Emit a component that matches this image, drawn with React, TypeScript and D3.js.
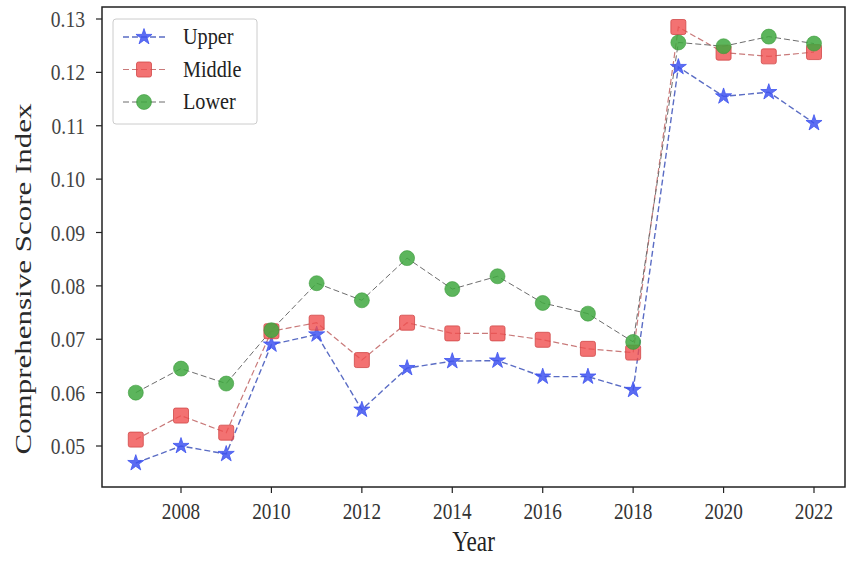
import React from "react";
import * as d3 from "d3";

const years = [2007, 2008, 2009, 2010, 2011, 2012, 2013, 2014, 2015, 2016, 2017, 2018, 2019, 2020, 2021, 2022];
const upper = [0.0468, 0.0500, 0.0485, 0.0690, 0.0709, 0.0568, 0.0646, 0.0659, 0.0660, 0.0630, 0.0630, 0.0605, 0.1210, 0.1155, 0.1163, 0.1105];
const middle = [0.0512, 0.0557, 0.0525, 0.0715, 0.0731, 0.0661, 0.0731, 0.0711, 0.0711, 0.0699, 0.0682, 0.0675, 0.1285, 0.1237, 0.1230, 0.1238];
const lower = [0.0600, 0.0645, 0.0617, 0.0717, 0.0805, 0.0773, 0.0852, 0.0794, 0.0818, 0.0768, 0.0748, 0.0695, 0.1256, 0.1249, 0.1267, 0.1254];
const xTicks = [2008, 2010, 2012, 2014, 2016, 2018, 2020, 2022];
const yTicks = [0.05, 0.06, 0.07, 0.08, 0.09, 0.10, 0.11, 0.12, 0.13];

const W = 851, H = 561;
const L = 102, R = 845, T = 7, B = 487;

export default function App() {
  const x = d3.scaleLinear().domain([2008, 2022]).range([181, 814]);
  const y = d3.scaleLinear().domain([0.05, 0.13]).range([446, 19]);
  const line = d3.line<[number, number]>().x(d => x(d[0])).y(d => y(d[1]));
  const series = [
    { name: "Upper", values: upper, line: "#5a6cc4", fill: "#3f54f0", dash: "6,3", lw: 1.4, shape: "star" },
    { name: "Middle", values: middle, line: "#c97a7a", fill: "#f04f4f", dash: "6,3", lw: 1.2, shape: "square" },
    { name: "Lower", values: lower, line: "#6d6d6d", fill: "#3fa83f", dash: "6,3", lw: 1.0, shape: "circle" },
  ];
  const starPath = d3.symbol().type(d3.symbolStar).size(80)() as string;
  const marker = (shape: string, fill: string, cx: number, cy: number, key?: any) => {
    if (shape === "star") return <path key={key} d={starPath} transform={`translate(${cx},${cy})`} fill={fill} fillOpacity={0.85} stroke={fill} strokeWidth={0.8} />;
    if (shape === "square") return <rect key={key} x={cx - 7.5} y={cy - 7.5} width={15} height={15} rx={2} fill={fill} fillOpacity={0.8} stroke="#d04848" strokeWidth={0.8} />;
    return <circle key={key} cx={cx} cy={cy} r={7.5} fill={fill} fillOpacity={0.85} stroke="#3a9a3a" strokeWidth={0.6} />;
  };
  const font = "'Liberation Serif', 'Times New Roman', serif";
  const sx = (px: number, py: number, k: number) => `translate(${px},${py}) scale(${k},1)`;
  return (
    <svg width={W} height={H} style={{ position: "absolute", left: 0, top: 0, background: "#fff" }} fontFamily={font}>
      <rect x={0} y={0} width={W} height={H} fill="#fff" />
      {series.map(s => (
        <path key={s.name + "l"} d={line(years.map((yr, i) => [yr, s.values[i]]))!} fill="none" stroke={s.line} strokeWidth={s.lw} strokeDasharray={s.dash} />
      ))}
      {series.map(s => (
        <g key={s.name + "m"}>{years.map((yr, i) => marker(s.shape, s.fill, x(yr), y(s.values[i]), i))}</g>
      ))}
      <rect x={L} y={T} width={R - L} height={B - T} fill="none" stroke="#222" strokeWidth={1.5} />
      {xTicks.map(t => (
        <g key={t}>
          <line x1={x(t)} x2={x(t)} y1={B} y2={B + 6} stroke="#222" strokeWidth={1.2} />
          <text transform={sx(x(t), 519, 0.8)} textAnchor="middle" fontSize={24} fill="#333">{t}</text>
        </g>
      ))}
      {yTicks.map(t => (
        <g key={t}>
          <line x1={L - 6} x2={L} y1={y(t)} y2={y(t)} stroke="#222" strokeWidth={1.2} />
          <text transform={sx(85, y(t) + 8, 0.85)} textAnchor="end" fontSize={23} fill="#444">{t.toFixed(2)}</text>
        </g>
      ))}
      <text transform={sx((L + R) / 2, 551, 0.8)} textAnchor="middle" fontSize={29} fill="#222">Year</text>
      <text transform={`translate(31,279) scale(0.72,1) rotate(-90)`} textAnchor="middle" fontSize={31} fill="#2a2a2a">Comprehensive Score Index</text>
      <g>
        <rect x={113} y={19} width={144} height={105} rx={3} fill="#fff" fillOpacity={0.9} stroke="#ccc" strokeWidth={1} />
        {series.map((s, i) => {
          const ly = 37 + i * 32.5;
          return (
            <g key={s.name + "g"}>
              <line x1={123} x2={165} y1={ly} y2={ly} stroke={s.line} strokeWidth={s.lw} strokeDasharray={s.dash} />
              {marker(s.shape, s.fill, 144, ly)}
              <text transform={sx(183, ly + 7, 0.88)} fontSize={23} fill="#222">{s.name}</text>
            </g>
          );
        })}
      </g>
    </svg>
  );
}
